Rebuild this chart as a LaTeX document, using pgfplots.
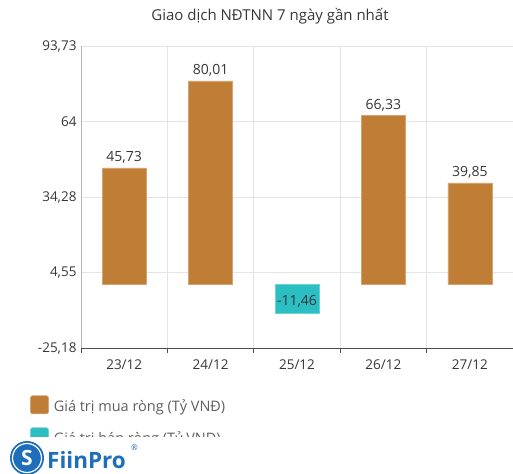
\documentclass[border=0pt]{standalone}
\usepackage{pgfplots}
\pgfplotsset{compat=1.18}
\usepackage{fontspec}
\setmainfont{Open Sans}
\definecolor{buy}{RGB}{191,125,54}
\definecolor{sell}{RGB}{43,190,195}
\definecolor{txt}{RGB}{55,55,55}
\definecolor{gridc}{RGB}{228,228,228}
\definecolor{logo}{RGB}{30,110,185}
\begin{document}
\begin{tikzpicture}[x=1pt,y=1pt]
\useasboundingbox (0,0) rectangle (513,473);
\begin{axis}[
  at={(81pt,125pt)}, anchor=south west,
  scale only axis, width=432pt, height=302pt,
  xmin=-0.5, xmax=4.5, ymin=-25.18, ymax=93.73,
  xtick={0,1,2,3,4},
  xticklabels={23/12,24/12,25/12,26/12,27/12},
  minor xtick={-0.5,0.5,1.5,2.5,3.5,4.5},
  ytick={-25.18,4.55,34.28,64,93.73},
  yticklabels={{-25,18},{4,55},{34,28},{64},{93,73}},
  major x tick style={draw=none},
  minor x tick style={draw=black!70, line width=0.8pt},
  minor tick length=5pt,
  xminorgrids=true, ymajorgrids=true,
  minor grid style={gridc, line width=0.8pt},
  major grid style={gridc, line width=0.8pt},
  y tick style={draw=none},
  axis x line*=bottom, axis y line*=left,
  x axis line style={draw=black!70, line width=0.8pt, -},
  y axis line style={draw=gridc!80!black, line width=0.8pt, -},
  tick label style={font=\fontsize{13.5}{15}\selectfont, text=txt},
  xticklabel style={yshift=-4pt},
  yticklabel style={xshift=-1pt},
  ybar, bar width=44pt, bar shift=0pt,
  title={Giao dịch NĐTNN 7 ngày gần nhất},
  title style={at={(0.4375,1)}, anchor=center, yshift=24pt,
    font=\fontsize{15}{16}\selectfont, text=txt},
  nodes near coords,
  /pgf/number format/assume math mode=true,
  /pgf/number format/use comma,
  /pgf/number format/fixed,
  /pgf/number format/fixed zerofill,
  /pgf/number format/precision=2,
  every node near coord/.append style={font=\fontsize{14}{15}\selectfont, text=txt},
  legend style={at={(-0.125,-0.15)}, anchor=north west, draw=none,
    font=\fontsize{14.5}{15}\selectfont, text=txt!80, row sep=12pt, fill=none},
  legend cell align=left,
  legend image code/.code={\fill[#1, rounded corners=2pt] (0pt,-7pt) rectangle (18pt,11pt);},
  clip=false,
]
\addplot[fill=buy, draw=buy!70!white, line width=0.6pt,
  every node near coord/.append style={anchor=south, yshift=1pt}]
  coordinates {(0,45.73) (1,80.01) (3,66.33) (4,39.85)};
\addlegendentry{\hspace{3pt}Giá trị mua ròng (Tỷ VNĐ)}
\addplot[fill=sell, draw=sell!70!white, line width=0.6pt,
  every node near coord/.append style={anchor=center, yshift=12pt}]
  coordinates {(2,-11.46)};
\addlegendentry{\hspace{3pt}Giá trị bán ròng (Tỷ VNĐ)}
\end{axis}
\fill[white] (0,0) rectangle (513,35.5);
\fill[logo] (27,15) circle (17);
\draw[white, line width=1.2pt] (27,15) circle (14.5);
\node[white, font=\bfseries\fontsize{21}{21}\selectfont] at (27,15) {S};
\node[logo, anchor=base west, font=\bfseries\fontsize{22.5}{22}\selectfont, inner sep=0] at (47,5) {FiinPro};
\node[logo, anchor=base west, font=\fontsize{8}{8}\selectfont, inner sep=0] at (131,23) {®};
\end{tikzpicture}
\end{document}
